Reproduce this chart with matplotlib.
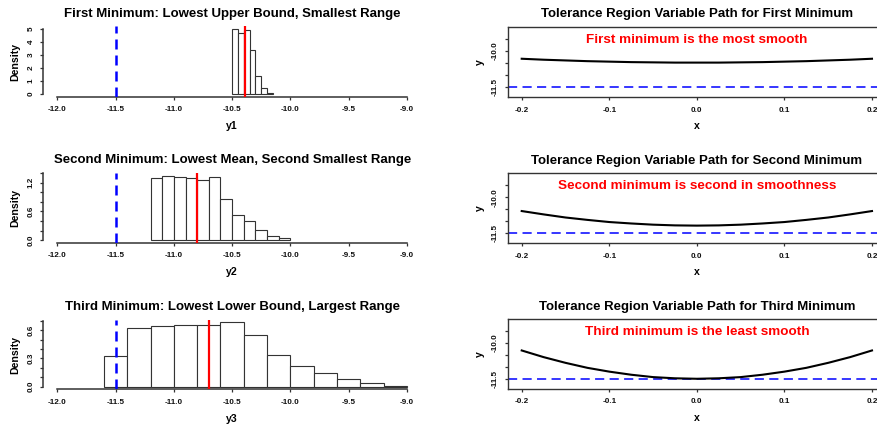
import matplotlib
matplotlib.use("Agg")
import matplotlib.pyplot as plt
import numpy as np

plt.rcParams['font.family'] = ['Liberation Sans', 'DejaVu Sans']
plt.rcParams['font.weight'] = 'bold'

# ----------------------------
# data
# ----------------------------
hist_titles = [
    "First Minimum: Lowest Upper Bound, Smallest Range",
    "Second Minimum: Lowest Mean, Second Smallest Range",
    "Third Minimum: Lowest Lower Bound, Largest Range",
]
hist_xlabels = ["y1", "y2", "y3"]

y1_edges = [-10.50, -10.45, -10.40, -10.35, -10.30, -10.25, -10.20, -10.15]
y1_density = [5.0, 4.65, 4.95, 3.4, 1.35, 0.45, 0.05]
y1_mean = -10.39

y2_edges = [-11.2, -11.1, -11.0, -10.9, -10.8, -10.7, -10.6, -10.5, -10.4,
            -10.3, -10.2, -10.1, -10.0]
y2_density = [1.29, 1.35, 1.31, 1.29, 1.26, 1.32, 0.85, 0.52, 0.39, 0.22,
              0.09, 0.035]
y2_mean = -10.80

y3_edges = [-11.6, -11.4, -11.2, -11.0, -10.8, -10.6, -10.4, -10.2, -10.0,
            -9.8, -9.6, -9.4, -9.2, -9.0]
y3_density = [0.33, 0.63, 0.65, 0.66, 0.66, 0.685, 0.55, 0.34, 0.22, 0.14,
              0.08, 0.035, 0.01]
y3_mean = -10.70

bound = -11.5

hist_yticks = [[0, 1, 2, 3, 4, 5],
               [0.0, 0.2, 0.4, 0.6, 0.8, 1.0, 1.2, 1.4],
               [0.0, 0.1, 0.2, 0.3, 0.4, 0.5, 0.6, 0.7]]
hist_ylabels = [["0", "1", "2", "3", "4", "5"],
                ["0.0", "", "", "0.6", "", "", "1.2", ""],
                ["0.0", "", "", "0.3", "", "", "0.6", ""]]
hist_xticks = [-12.0, -11.5, -11.0, -10.5, -10.0, -9.5, -9.0]

path_titles = [
    "Tolerance Region Variable Path for First Minimum",
    "Tolerance Region Variable Path for Second Minimum",
    "Tolerance Region Variable Path for Third Minimum",
]
path_notes = [
    "First minimum is the most smooth",
    "Second minimum is second in smoothness",
    "Third minimum is the least smooth",
]
path_x = [-0.2, -0.175, -0.15, -0.125, -0.1, -0.075, -0.05, -0.025, 0.0,
          0.025, 0.05, 0.075, 0.1, 0.125, 0.15, 0.175, 0.2]
path1_y = [-10.33, -10.37, -10.40, -10.43, -10.45, -10.47, -10.48, -10.49, -10.49,
           -10.49, -10.48, -10.47, -10.45, -10.43, -10.40, -10.37, -10.33]
path2_y = [-10.58, -10.72, -10.85, -10.95, -11.04, -11.10, -11.15, -11.18, -11.19,
           -11.18, -11.15, -11.10, -11.04, -10.95, -10.85, -10.72, -10.58]
path3_y = [-10.31, -10.59, -10.83, -11.04, -11.20, -11.33, -11.43, -11.48, -11.50,
           -11.48, -11.43, -11.33, -11.20, -11.04, -10.83, -10.59, -10.31]
path_xticks = [-0.2, -0.1, 0.0, 0.1, 0.2]
path_yticks = [-9.5, -10.0, -10.5, -11.0, -11.5]
path_ylabels = ["", "-10.0", "", "", "-11.5"]

W, H = 877, 428
fig = plt.figure(figsize=(W / 100, H / 100), dpi=100)
fig.patch.set_facecolor("white")


def px_axes(left, top, right, bottom):
    return fig.add_axes([left / W, 1 - bottom / H, (right - left) / W,
                         (bottom - top) / H])


axis_col = "#333333"


def style_ticks(ax):
    ax.tick_params(length=2.5, width=0.9, color=axis_col, labelsize=5.9,
                   pad=4.2, labelcolor="#111111")
    ax.tick_params(axis="y", labelrotation=90, pad=3.8)
    for lbl in ax.get_yticklabels():
        lbl.set_va("center")


# left column: histograms
hist_rows = [(26.3, 96.7), (173.0, 242.7), (319.8, 389.2)]
hist_data = [(y1_edges, y1_density, y1_mean),
             (y2_edges, y2_density, y2_mean),
             (y3_edges, y3_density, y3_mean)]

for i, (top, bottom) in enumerate(hist_rows):
    ax = px_axes(43.3, top, 421.0, bottom)
    edges, dens, mean = hist_data[i]
    edges = np.array(edges)
    ax.bar(edges[:-1], dens, width=np.diff(edges), align="edge",
           facecolor="white", edgecolor="#333333", linewidth=0.8, zorder=2)
    ymax = max(dens)
    ax.set_xlim(-12.12, -8.88)
    ax.set_ylim(-0.04 * ymax, 1.04 * ymax)
    ax.axvline(mean, color="#ff0000", lw=1.6, zorder=3)
    ax.axvline(bound, color="#0000ff", lw=1.8, linestyle=(0, (4, 2.4)), zorder=3)

    ax.spines["top"].set_visible(False)
    ax.spines["right"].set_visible(False)
    for s in ("left", "bottom"):
        ax.spines[s].set_color(axis_col)
        ax.spines[s].set_linewidth(1.1)
    ax.spines["bottom"].set_bounds(-12.0, -9.0)
    ax.spines["left"].set_bounds(0, hist_yticks[i][-1])

    ax.set_xticks(hist_xticks)
    ax.set_xticklabels([f"{v:.1f}" for v in hist_xticks])
    ax.set_yticks(hist_yticks[i])
    ax.set_yticklabels(hist_ylabels[i])
    style_ticks(ax)

    ax.set_title(hist_titles[i], fontsize=9.5, fontweight="bold", pad=7)
    ax.set_xlabel(hist_xlabels[i], fontsize=7.6, fontweight="bold")
    ax.xaxis.set_label_coords(0.5, -29.3 / (bottom - top))
    ax.xaxis.label.set_va("center")
    ax.set_ylabel("Density", fontsize=7.6, fontweight="bold")
    ax.yaxis.set_label_coords(-(43.3 - 15) / (421.0 - 43.3), 0.5)
    ax.yaxis.label.set_va("center")

# right column: variable paths
path_rows = [(26.7, 97.3), (173.3, 243.3), (319.3, 389.0)]
path_data = [path1_y, path2_y, path3_y]

for i, (top, bottom) in enumerate(path_rows):
    ax = px_axes(507.7, top, 886.0, bottom)
    ax.plot(path_x, path_data[i], color="black", lw=1.5, zorder=3)
    ax.axhline(bound, color="#0000ff", lw=1.1, linestyle=(0, (6, 3.5)), zorder=2)
    ax.text(0.0, -9.55, path_notes[i], color="#ff0000", fontsize=9.7,
            fontweight="bold", ha="center", va="center")
    ax.set_xlim(-0.216, 0.216)
    ax.set_ylim(-11.93, -9.0)
    for s in ax.spines.values():
        s.set_color(axis_col)
        s.set_linewidth(1.0)

    ax.set_xticks(path_xticks)
    ax.set_xticklabels([f"{v:.1f}" for v in path_xticks])
    ax.set_yticks(path_yticks)
    ax.set_yticklabels(path_ylabels)
    style_ticks(ax)

    ax.set_title(path_titles[i], fontsize=9.5, fontweight="bold", pad=7)
    ax.set_xlabel("x", fontsize=7.6, fontweight="bold")
    ax.xaxis.set_label_coords(0.5, -29.0 / (bottom - top))
    ax.xaxis.label.set_va("center")
    ax.set_ylabel("y", fontsize=7.6, fontweight="bold")
    ax.yaxis.set_label_coords(-(507.7 - 480) / (886.0 - 507.7), 0.5)
    ax.yaxis.label.set_va("center")

fig.savefig("out.png", dpi=100, facecolor="white")
